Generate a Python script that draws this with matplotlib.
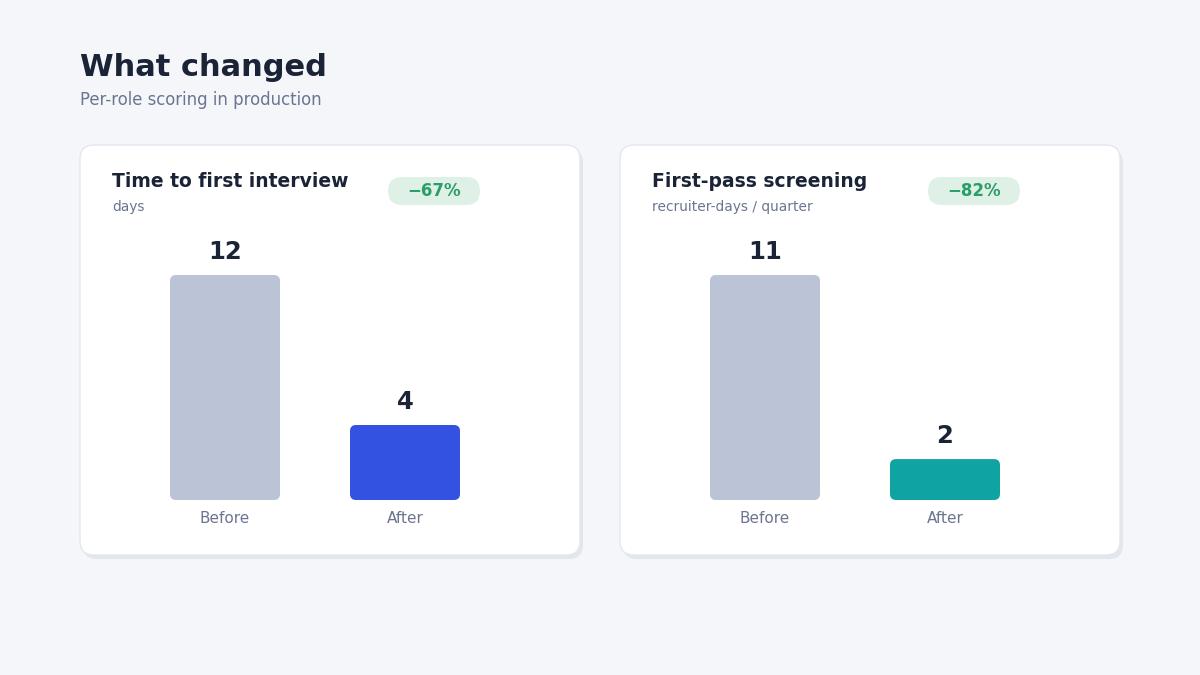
import matplotlib.pyplot as plt
from matplotlib.patches import FancyBboxPatch

# data
categories = ['Before', 'After']
titles = ['Time to first interview', 'First-pass screening']
units = ['days', 'recruiter-days / quarter']
before_vals = [12, 11]
after_vals = [4, 2]
badges = ['\u221267%', '\u221282%']
after_colors = ['#3452e1', '#10a3a3']
before_color = '#bbc3d6'

W, H = 1200, 675
fig = plt.figure(figsize=(12, 6.75), dpi=100)
fig.patch.set_facecolor('#f5f6fa')

# background axes in pixel space for cards and text
bg = fig.add_axes([0, 0, 1, 1])
bg.set_xlim(0, W)
bg.set_ylim(H, 0)
bg.axis('off')

bg.text(80, 67, 'What changed', fontsize=22, fontweight='bold', color='#1b2336',
        va='center', ha='left')
bg.text(80, 100, 'Per-role scoring in production', fontsize=11.9, color='#6b7590',
        va='center', ha='left')

card_x = [80, 620]
for i in range(2):
    x0 = card_x[i]
    # shadow + card
    bg.add_patch(FancyBboxPatch((x0 + 3, 149), 500, 410, boxstyle='round,pad=0,rounding_size=14',
                                fc='#e3e6ed', ec='none', zorder=1))
    bg.add_patch(FancyBboxPatch((x0, 145), 500, 410, boxstyle='round,pad=0,rounding_size=14',
                                fc='white', ec='#e4e7f0', lw=1, zorder=2))
    bg.text(x0 + 32, 181.5, titles[i], fontsize=13.5, fontweight='bold', color='#1b2336',
            va='center', ha='left', zorder=3)
    bg.text(x0 + 32, 207, units[i], fontsize=9.9, color='#6b7590',
            va='center', ha='left', zorder=3)
    bg.add_patch(FancyBboxPatch((x0 + 308, 177), 92, 28, boxstyle='round,pad=0,rounding_size=14',
                                fc='#dff0e7', ec='none', zorder=3))
    bg.text(x0 + 354, 191, badges[i], fontsize=12, fontweight='bold', color='#2a9d6a',
            va='center', ha='center', zorder=4)

    # bar axes: x centers at x0+145 and x0+325, baseline y=500, max top y=275
    vals = [before_vals[i], after_vals[i]]
    vmax = max(vals)
    left_px = x0 + 55
    ax = fig.add_axes([left_px / W, (H - 500) / H, 360 / W, 225 / H])
    ax.set_xlim(-0.5, 1.5)
    ax.set_ylim(0, vmax)
    ax.axis('off')
    ax.set_zorder(5)
    ax.patch.set_alpha(0)
    bars = ax.bar(range(2), vals, width=110 / 180, color=[before_color, after_colors[i]])
    aspect = 180 * vmax / 225
    for b in bars:
        b.set_visible(False)
        ax.add_patch(FancyBboxPatch((b.get_x(), 0), b.get_width(), b.get_height(),
                                    boxstyle='round,pad=0,rounding_size=%f' % (6 / 180),
                                    mutation_aspect=aspect, fc=b.get_facecolor(), ec='none'))
        ax.annotate(str(int(b.get_height())), (b.get_x() + b.get_width() / 2, b.get_height()),
                    xytext=(0, 16.5), textcoords='offset points', ha='center', va='center',
                    fontsize=17.5, fontweight='bold', color='#1b2336', annotation_clip=False)
    for j, c in enumerate(categories):
        ax.annotate(c, (j, 0), xytext=(0, -13), textcoords='offset points', ha='center',
                    va='center', fontsize=11, color='#6b7590', annotation_clip=False)

fig.savefig('out.png', dpi=100, facecolor=fig.get_facecolor())
